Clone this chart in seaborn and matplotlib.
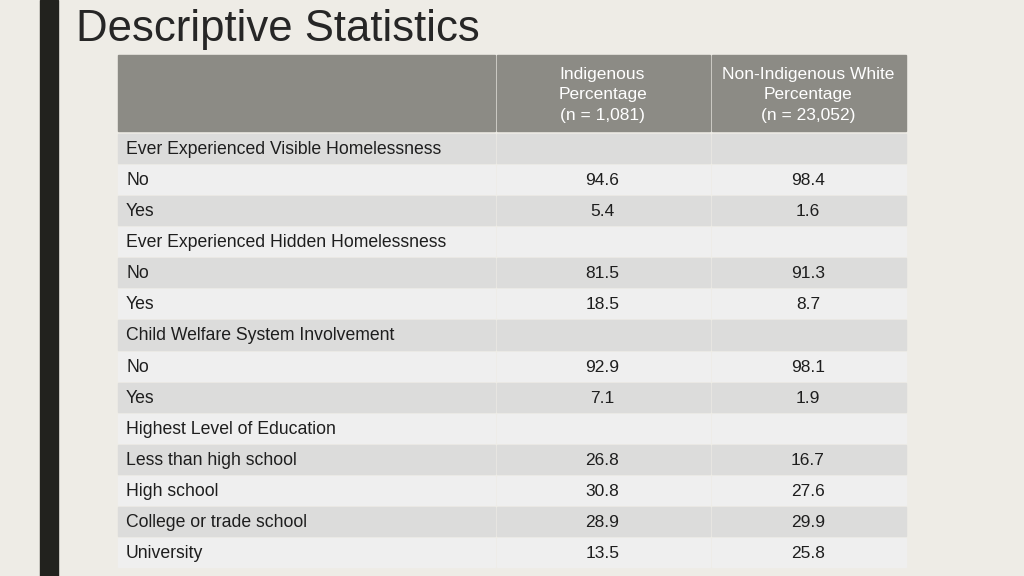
import matplotlib
matplotlib.use("Agg")
import matplotlib.pyplot as plt
import seaborn as sns
import numpy as np

sns.set_theme(style="white", font="Liberation Sans")

title = "Descriptive Statistics"
col_headers = ["", "Indigenous\nPercentage\n(n = 1,081)", "Non-Indigenous White\nPercentage\n(n = 23,052)"]
row_labels = ["Ever Experienced Visible Homelessness", "No", "Yes",
              "Ever Experienced Hidden Homelessness", "No", "Yes",
              "Child Welfare System Involvement", "No", "Yes",
              "Highest Level of Education", "Less than high school", "High school",
              "College or trade school", "University"]
is_section = [True, False, False, True, False, False, True, False, False, True, False, False, False, False]
indigenous = ["", "94.6", "5.4", "", "81.5", "18.5", "", "92.9", "7.1", "", "26.8", "30.8", "28.9", "13.5"]
non_indigenous = ["", "98.4", "1.6", "", "91.3", "8.7", "", "98.1", "1.9", "", "16.7", "27.6", "29.9", "25.8"]

W, H = 1024, 576
fig = plt.figure(figsize=(10.24, 5.76), dpi=100, facecolor="#EEECE6")
ax = fig.add_axes([0, 0, 1, 1])
ax.set_xlim(0, W); ax.set_ylim(H, 0); ax.axis("off")
ax.set_facecolor("#EEECE6")

ax.add_patch(plt.Rectangle((40, 0), 18, H, color="#22221E"))
ax.text(76, 30, title, fontsize=31.5, color="#262626", va="center", ha="left")

xe = [118, 495, 710, 906]
hdr_top, hdr_bot = 55, 131
row_top, row_bot = 133, 568
n = len(row_labels)
rh = (row_bot - row_top) / n
gap = 2

for c in range(3):
    x0 = xe[c] + (gap if c else 0)
    ax.add_patch(plt.Rectangle((x0, hdr_top), xe[c + 1] - x0, hdr_bot - hdr_top, color="#8C8B85"))
    if col_headers[c]:
        ax.text((xe[c] + xe[c + 1]) / 2, (hdr_top + hdr_bot) / 2 + 2, col_headers[c], ha="center", va="center",
                fontsize=12.5, color="white", linespacing=1.45)

cols = [row_labels, indigenous, non_indigenous]
for r in range(n):
    y0 = row_top + r * rh
    shade = "#DCDCDB" if r % 2 == 0 else "#EFEFEF"
    for c in range(3):
        x0 = xe[c] + (gap if c else 0)
        ax.add_patch(plt.Rectangle((x0, y0 + gap / 2), xe[c + 1] - x0, rh - gap, color=shade))
        txt = cols[c][r]
        if c == 0:
            ax.text(126, y0 + rh / 2 + 1, txt, ha="left", va="center", fontsize=12.7, color="#1E1E1E")
        else:
            ax.text((xe[c] + xe[c + 1]) / 2, y0 + rh / 2 + 1, txt, ha="center", va="center",
                    fontsize=12.5, color="#1E1E1E")

fig.savefig("out.png", dpi=100, facecolor=fig.get_facecolor())
